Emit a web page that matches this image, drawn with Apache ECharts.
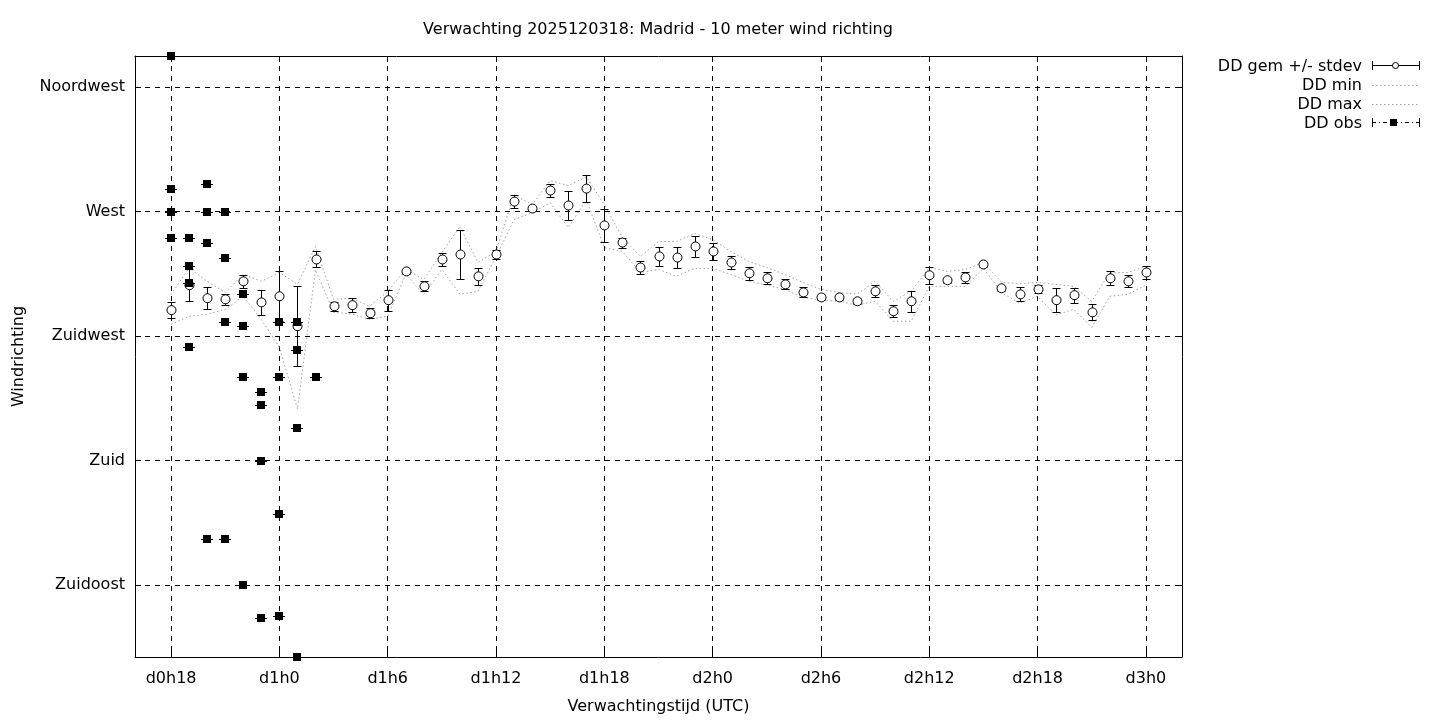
<!DOCTYPE html>
<html><head><meta charset="utf-8">
<script src="https://cdn.jsdelivr.net/npm/echarts@6/dist/echarts.min.js"></script>
<style>html,body{margin:0;padding:0;background:#fff}#c{width:1440px;height:720px}</style>
</head><body><div id="c"></div>
<script>
// forecast hours (hours since d0h0)
const hours = [18,19,20,21,22,23,24,25,26,27,28,29,30,31,32,33,34,35,36,37,38,39,40,41,42,43,44,45,46,47,48,49,50,51,52,53,54,55,56,57,58,59,60,61,62,63,64,65,66,67,68,69,70,71,72];
const ddMean = [234.4,243.4,238.7,238.3,244.8,237.2,239.4,228.6,252.7,235.8,236.2,233.3,238.0,248.4,243.0,252.7,254.5,246.6,254.5,273.6,271.1,277.6,272.2,278.3,265.0,258.8,249.8,253.8,253.4,257.4,255.6,251.6,247.7,245.9,243.7,240.8,239.0,239.0,237.6,241.2,234.0,237.6,247.0,245.2,246.2,250.9,242.3,240.1,241.9,238.0,239.8,233.6,245.9,244.8,248.0];
const ddStd = [2.9,5.8,4.0,2.0,2.3,4.5,9.0,14.4,2.9,1.6,2.5,1.8,3.8,0.8,1.8,2.5,8.8,3.0,1.6,2.3,0.9,2.5,5.2,5.0,5.9,1.8,2.2,3.4,3.8,3.8,3.1,2.5,2.3,2.2,1.8,1.8,0.9,0.9,1.0,2.2,2.2,3.8,3.1,0.9,2.0,0.9,0.9,2.5,1.4,4.3,2.7,2.9,2.5,2.2,2.5];
const ddMin = [229.3,232.2,232.9,234.7,239.4,231.0,221.0,198.7,249.0,233.6,233.0,231.1,232.2,247.3,240.1,249.1,240.1,241.2,253.8,267.1,269.6,273.2,264.2,274.3,257.0,255.6,248.0,249.1,246.6,249.5,249.5,247.3,244.8,243.4,241.9,239.0,238.0,237.6,236.2,237.6,230.4,230.4,243.0,243.0,243.0,249.5,240.8,236.9,239.4,232.6,234.7,228.2,239.4,240.1,243.4];
const ddMax = [240.0,249.8,244.8,240.8,247.3,244.8,248.0,243.7,257.4,238.3,238.7,235.8,241.2,249.1,245.5,255.2,264.6,251.6,255.6,276.1,272.5,281.2,279.4,282.6,272.5,260.6,253.8,259.2,259.2,262.1,259.9,255.6,252.0,249.8,247.3,244.4,241.9,240.8,240.1,244.8,237.6,241.2,249.8,248.4,249.1,251.6,244.4,244.0,244.4,243.7,243.0,237.6,248.0,248.0,250.2];
// observations
const obsHours  = [18,18,18,18, 19,19,19,19, 20,20,20,20, 21,21,21,21, 22,22,22,22, 23,23,23,23, 24,24,24,24, 25,25,25,25, 26];
const obsValues = [326.2,278.3,270.0,260.3, 260.3,250.2,244.1,221.0, 280.1,270.0,258.8,151.9, 270.0,253.1,230.0,151.9, 240.1,228.6,210.2,135.0, 204.8,200.2,180.0,123.1, 230.0,210.2,160.9,123.8, 230.0,220.0,191.9,109.1, 210.2];
// ticks
const xTickValues = [18,24,30,36,42,48,54,60,66,72];
const xTickLabels = ['d0h18','d1h0','d1h6','d1h12','d1h18','d2h0','d2h6','d2h12','d2h18','d3h0'];
const yTickValues = [135,180,225,270,315];
const yTickLabels = ['Zuidoost','Zuid','Zuidwest','West','Noordwest'];

const FONT = 'DejaVu Sans';
const chart = echarts.init(document.getElementById('c'), null, {renderer:'canvas'});
const dash = [5,5];

const gemData = hours.map((h,i)=>[h, ddMean[i], ddStd[i]]);
const obsData = obsHours.map((h,i)=>[h, obsValues[i]]);
const px = v => Math.round(v) + 0.5;

function gemRender(params, api){
  const x = api.value(0), m = api.value(1), s = api.value(2);
  const c = api.coord([x,m]), t = api.coord([x,m+s]), b = api.coord([x,m-s]);
  const cx = px(c[0]), ty = px(t[1]), by = px(b[1]);
  const cap = 4, r = 4.5;
  const ls = {stroke:'#000', lineWidth:1};
  return {type:'group', children:[
    {type:'line', shape:{x1:cx,y1:ty,x2:cx,y2:by}, style:ls},
    {type:'line', shape:{x1:cx-cap,y1:ty,x2:cx+cap,y2:ty}, style:ls},
    {type:'line', shape:{x1:cx-cap,y1:by,x2:cx+cap,y2:by}, style:ls},
    {type:'circle', shape:{cx:cx,cy:c[1],r:r}, style:{fill:'#fff',stroke:'#000',lineWidth:1}}
  ]};
}
function obsRender(params, api){
  const c = api.coord([api.value(0), api.value(1)]);
  const cx = Math.round(c[0]), cy = Math.round(c[1]);
  const h = 4;
  return {type:'group', children:[
    {type:'line', shape:{x1:cx-6,y1:cy+0.5,x2:cx+6,y2:cy+0.5}, style:{stroke:'#000',lineWidth:1}},
    {type:'rect', shape:{x:cx-h,y:cy-h,width:2*h,height:2*h}, style:{fill:'#000'}}
  ]};
}

const axisLine = {show:true, lineStyle:{color:'#000', width:1}};
const tickStyle = {show:true, inside:true, length:6, lineStyle:{color:'#000'}};
const lblStyle = {color:'#000', fontFamily:FONT, fontSize:16};

const option = {
  animation:false,
  backgroundColor:'#fff',
  title:{text:'Verwachting 2025120318: Madrid - 10 meter wind richting', left:658, top:22, padding:0, textAlign:'center',
    textStyle:{fontFamily:FONT, fontSize:16, fontWeight:'normal', color:'#000'}},
  grid:{left:135, right:258, top:56, bottom:61, containLabel:false},
  xAxis:[{type:'value', min:16, max:74, position:'bottom',
      name:'Verwachtingstijd (UTC)', nameLocation:'middle', nameGap:42,
      nameTextStyle:{fontFamily:FONT, fontSize:16, color:'#000'},
      axisLine:axisLine, axisTick:Object.assign({customValues:xTickValues}, tickStyle),
      axisLabel:Object.assign({customValues:xTickValues, margin:14, formatter:v=>xTickLabels[xTickValues.indexOf(v)]||''}, lblStyle),
      splitLine:{show:true, lineStyle:{color:'#000', width:1, type:dash}}},
    {type:'value', min:16, max:74, position:'top', axisLine:axisLine,
      axisTick:Object.assign({customValues:xTickValues}, tickStyle), axisLabel:{show:false}, splitLine:{show:false}}],
  yAxis:[{type:'value', min:109.1, max:326.2, position:'left',
      name:'Windrichting', nameLocation:'middle', nameGap:108, nameRotate:90,
      nameTextStyle:{fontFamily:FONT, fontSize:16, color:'#000'},
      axisLine:axisLine, axisTick:Object.assign({customValues:yTickValues}, tickStyle),
      axisLabel:Object.assign({customValues:yTickValues, margin:10, formatter:v=>yTickLabels[yTickValues.indexOf(v)]||''}, lblStyle),
      splitLine:{show:true, lineStyle:{color:'#000', width:1, type:dash}}},
    {type:'value', min:109.1, max:326.2, position:'right', axisLine:axisLine,
      axisTick:Object.assign({customValues:yTickValues}, tickStyle), axisLabel:{show:false}, splitLine:{show:false}}],
  series:[
    {name:'DD min', type:'line', data:hours.map((h,i)=>[h,ddMin[i]]), symbol:'none', silent:true,
      lineStyle:{color:'#a0a0a0', width:1, type:[1.5,2.5]}, z:2},
    {name:'DD max', type:'line', data:hours.map((h,i)=>[h,ddMax[i]]), symbol:'none', silent:true,
      lineStyle:{color:'#a0a0a0', width:1, type:[1.5,2.5]}, z:2},
    {name:'DD gem +/- stdev', type:'custom', renderItem:gemRender, data:gemData, encode:{x:0,y:1}, z:3},
    {name:'DD obs', type:'custom', renderItem:obsRender, data:obsData, encode:{x:0,y:1}, clip:false, z:4}
  ],
  graphic:[
    {type:'text', x:1362, y:67, style:{text:'DD gem +/- stdev', align:'right', verticalAlign:'middle', font:'16px '+FONT, fill:'#000'}},
    {type:'text', x:1362, y:86, style:{text:'DD min', align:'right', verticalAlign:'middle', font:'16px '+FONT, fill:'#000'}},
    {type:'text', x:1362, y:105, style:{text:'DD max', align:'right', verticalAlign:'middle', font:'16px '+FONT, fill:'#000'}},
    {type:'text', x:1362, y:124, style:{text:'DD obs', align:'right', verticalAlign:'middle', font:'16px '+FONT, fill:'#000'}},
    {type:'line', shape:{x1:1372,y1:65.5,x2:1420,y2:65.5}, style:{stroke:'#000',lineWidth:1}},
    {type:'line', shape:{x1:1372.5,y1:61,x2:1372.5,y2:70}, style:{stroke:'#000',lineWidth:1}},
    {type:'line', shape:{x1:1419.5,y1:61,x2:1419.5,y2:70}, style:{stroke:'#000',lineWidth:1}},
    {type:'circle', shape:{cx:1395.5,cy:65.5,r:3}, style:{fill:'#fff',stroke:'#000',lineWidth:1}},
    {type:'line', shape:{x1:1372,y1:85.5,x2:1420,y2:85.5}, style:{stroke:'#a0a0a0',lineWidth:1,lineDash:[1.5,2.5]}},
    {type:'line', shape:{x1:1372,y1:104.5,x2:1420,y2:104.5}, style:{stroke:'#a0a0a0',lineWidth:1,lineDash:[1.5,2.5]}},
    {type:'line', shape:{x1:1372,y1:122.5,x2:1420,y2:122.5}, style:{stroke:'#000',lineWidth:1,lineDash:[4,3,1,3]}},
    {type:'line', shape:{x1:1372.5,y1:118,x2:1372.5,y2:127}, style:{stroke:'#000',lineWidth:1}},
    {type:'line', shape:{x1:1419.5,y1:118,x2:1419.5,y2:127}, style:{stroke:'#000',lineWidth:1}},
    {type:'rect', shape:{x:1390,y:119,width:7,height:7}, style:{fill:'#000'}}
  ]
};
chart.setOption(option);
</script></body></html>
